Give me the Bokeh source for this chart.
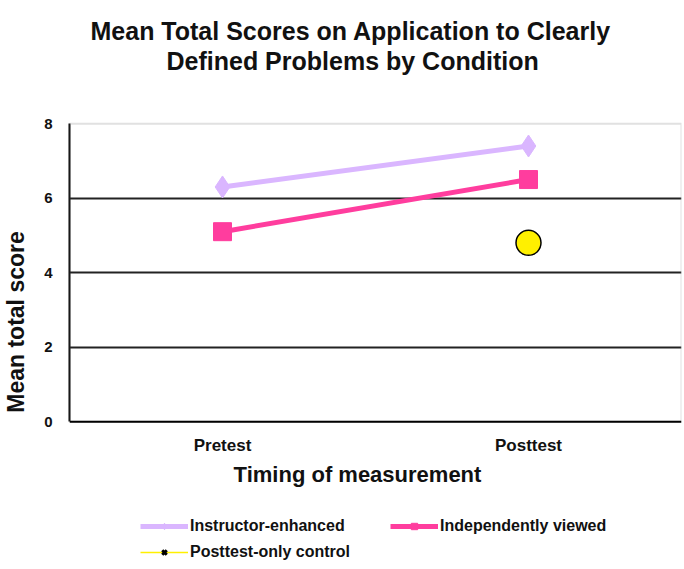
from bokeh.plotting import figure
from bokeh.models import (FactorRange, Range1d, FixedTicker, Legend, LegendItem,
                          Title, Label, Span, BoxAnnotation, ColumnDataSource)
from bokeh.embed import file_html
from bokeh.resources import INLINE

# ---- data ----
timepoints = ["Pretest", "Posttest"]
instructor_enhanced = [6.3, 7.4]
independently_viewed = [5.1, 6.5]
control_timepoints = ["Posttest"]
posttest_only_control = [4.8]
y_ticks = [0, 2, 4, 6, 8]
grid_ticks = [2, 4, 6]

title_lines = ["Mean Total Scores on Application to Clearly",
               "Defined Problems by Condition"]
x_label = "Timing of measurement"
y_label = "Mean total score"
series_names = ["Instructor-enhanced", "Independently viewed", "Posttest-only control"]

FONT = "Liberation Sans"
LAV = "#DAB6FF"
PINK = "#FF3D9E"
YEL = "#FFF000"
INK = "#111111"

# The frame also holds the category labels and the key below the 0-8 plot box.
p = figure(width=684, height=569, title=None,
           x_range=FactorRange(factors=timepoints, range_padding=0),
           y_range=Range1d(-3.97, 9.32),
           x_axis_location=None,
           output_backend="svg", toolbar_location=None,
           min_border_left=69, min_border_right=3,
           min_border_top=74, min_border_bottom=0)
p.background_fill_color = "white"
p.border_fill_color = "white"
p.outline_line_color = None
p.xgrid.visible = False

# y axis
yax = p.yaxis[0]
yax.ticker = FixedTicker(ticks=y_ticks)
yax.bounds = (y_ticks[0], y_ticks[-1])
yax.axis_line_color = "black"
yax.axis_line_width = 2
yax.major_tick_line_color = None
yax.minor_tick_line_color = None
yax.major_tick_in = 0
yax.major_tick_out = 0
yax.major_label_text_font = FONT
yax.major_label_text_font_style = "bold"
yax.major_label_text_font_size = "15px"
yax.major_label_text_color = INK
yax.major_label_standoff = 17
yax.axis_label = y_label
yax.axis_label_text_font = FONT
yax.axis_label_text_font_style = "bold"
yax.axis_label_text_font_size = "23px"
yax.axis_label_text_color = INK
yax.axis_label_standoff = 12

p.ygrid.ticker = FixedTicker(ticks=grid_ticks)
p.ygrid.grid_line_color = "#222222"
p.ygrid.grid_line_width = 2

# plot box (grey top/right edges) and black baseline at 0
p.add_layout(BoxAnnotation(bottom=y_ticks[0], top=y_ticks[-1], fill_alpha=0,
                           line_color="#9a9a9a", line_width=2))
p.add_layout(Span(location=y_ticks[0], dimension="width", line_color="black", line_width=2))

# category labels under the baseline
cat_src = ColumnDataSource(dict(x=timepoints, y=[y_ticks[0]] * len(timepoints)))
p.text("x", "y", text="x", source=cat_src, y_offset=14, text_align="center",
       text_baseline="top", text_font_size="17px", text_font_style="bold",
       text_color=INK, text_font={"value": FONT})

# data
src_ie = ColumnDataSource(dict(x=timepoints, y=instructor_enhanced))
src_iv = ColumnDataSource(dict(x=timepoints, y=independently_viewed))
src_c = ColumnDataSource(dict(x=control_timepoints, y=posttest_only_control))

r_ie_line = p.line("x", "y", source=src_ie, line_color=LAV, line_width=5)
r_ie_pts = p.scatter("x", "y", source=src_ie, marker="diamond", size=22,
                     fill_color=LAV, line_color=LAV)
r_iv_line = p.line("x", "y", source=src_iv, line_color=PINK, line_width=5)
r_iv_pts = p.scatter("x", "y", source=src_iv, marker="square", size=18,
                     fill_color=PINK, line_color=PINK)
r_c_pts = p.scatter("x", "y", source=src_c, marker="circle", size=25,
                    fill_color=YEL, line_color="black", line_width=1.5)

# key-only glyphs for the control series (hidden in the plot, shown in the key)
r_c_key_line = p.line("x", "y", source=src_c, line_color=YEL, line_width=1.5, visible=False)
r_c_key_mark = p.scatter("x", "y", source=src_c, marker="x", size=8,
                         line_color="black", line_width=3, visible=False)

# x axis title
p.add_layout(Label(x=288, y=95, x_units="screen", y_units="screen", text=x_label,
                   text_align="center", text_baseline="middle",
                   text_font=FONT, text_font_size="22px", text_font_style="bold",
                   text_color=INK))

# chart title (two centred lines)
t2 = Title(text=title_lines[1], align="left", offset=97, standoff=0,
           text_font=FONT, text_font_size="25px", text_font_style="bold", text_color=INK)
t1 = Title(text=title_lines[0], align="left", offset=21, standoff=0,
           text_font=FONT, text_font_size="25px", text_font_style="bold", text_color=INK)
p.add_layout(t2, "above")
p.add_layout(t1, "above")

# key: two blocks below the plot
legend_style = dict(orientation="vertical", spacing=6, glyph_width=48, glyph_height=16,
                    label_standoff=2, label_height=20, padding=0, margin=0,
                    border_line_color=None, background_fill_alpha=0,
                    inactive_fill_alpha=0,
                    label_text_font=FONT, label_text_font_size="16px",
                    label_text_font_style="bold", label_text_color=INK)
leg_a = Legend(items=[LegendItem(label=series_names[0], renderers=[r_ie_line, r_ie_pts]),
                      LegendItem(label=series_names[2], renderers=[r_c_key_line, r_c_key_mark])],
               location=(71, 7), **legend_style)
leg_b = Legend(items=[LegendItem(label=series_names[1], renderers=[r_iv_line, r_iv_pts])],
               location=(321, 33), **legend_style)
p.add_layout(leg_a)
p.add_layout(leg_b)

open("out.html", "w").write(file_html(p, INLINE))
